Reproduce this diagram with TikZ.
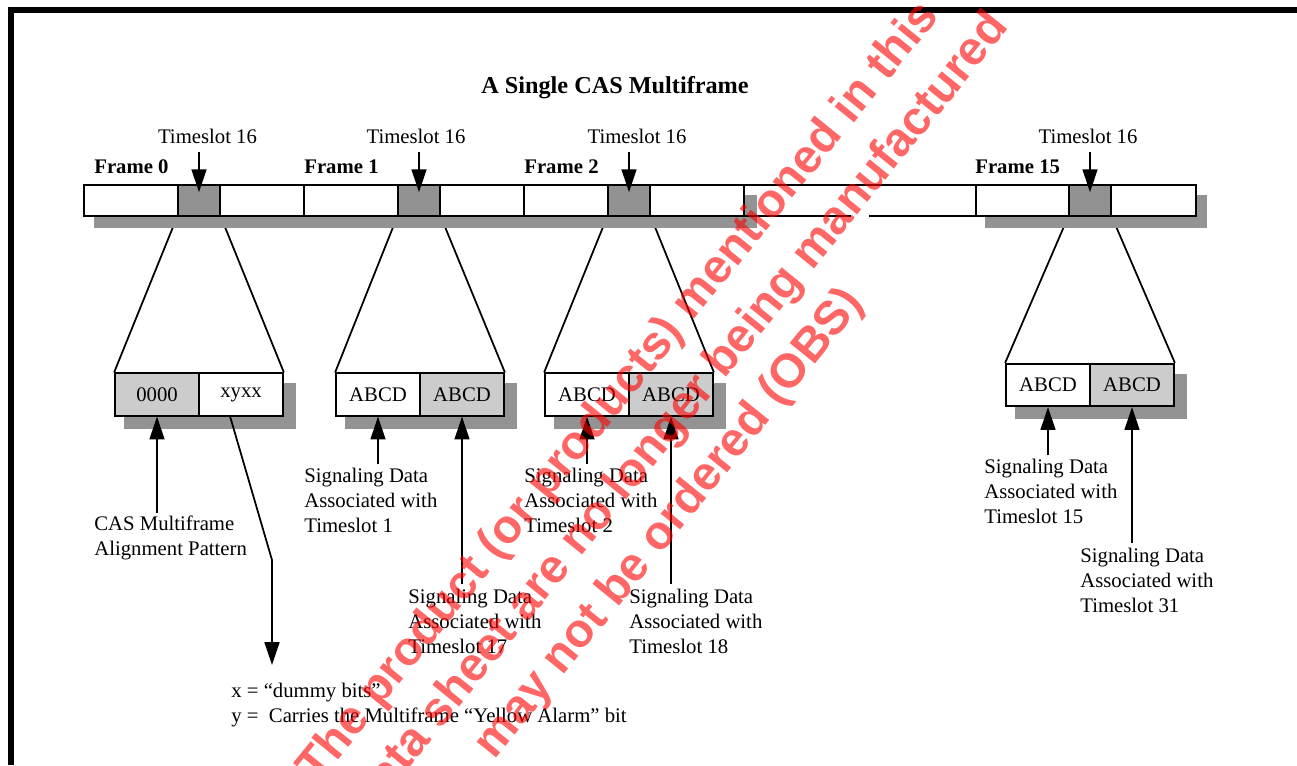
\documentclass[tikz,border=0pt]{standalone}
\usepackage{fontspec}
\setmainfont{Liberation Serif}
\newfontfamily\wmfont{Liberation Sans}
\usetikzlibrary{positioning,arrows.meta,calc,backgrounds}
\definecolor{SlotGray}{RGB}{146,146,146}
\definecolor{ShadeGray}{RGB}{147,147,147}
\definecolor{HalfGray}{RGB}{204,204,204}

\begin{document}
\begin{tikzpicture}[x=0.02cm,y=-0.02cm,
txt/.style={font=\fontsize{11.8}{14.2}\selectfont,inner sep=0pt},
frm/.style={font=\fontsize{11.8}{14.2}\selectfont\bfseries,inner sep=0pt,anchor=base west},
slot/.style={draw,line width=1pt,fill=SlotGray,minimum width=0.84cm,minimum height=0.62cm,inner sep=0pt},
half/.style={draw,line width=1pt,minimum width=1.68cm,minimum height=0.85cm,inner sep=0pt,font=\fontsize{11.8}{14.2}\selectfont},
shd/.style={fill=ShadeGray},
fan/.style={line width=1pt},
arr/.style={line width=1pt,-{Triangle[width=8.5pt,length=13pt]}},
note/.style={txt,align=left,anchor=north west},
wm/.style={font=\wmfont\fontsize{27}{30}\selectfont\bfseries,text=red,text opacity=0.6,rotate=51,inner sep=0pt}
]
\useasboundingbox (0,0) rectangle (1297,765);
% page frame
\draw[line width=3.4pt] (11,765) -- (11,10) -- (1297,10);
\node[font=\fontsize{13.8}{16}\selectfont\bfseries,inner sep=0pt,anchor=base] (title) at (615,93) {A Single CAS Multiframe};

% frame bar
\foreach \fx/\sx/\fn in {84/94/0,304/94/1,524/84/2,976/93/15}{
  \draw[line width=1pt,fill=white] (\fx,185) rectangle ++(220,31);
  \node[slot] (ts\fn) at (\fx+\sx+21,200.5) {};
}
\draw[line width=1pt] (744,185) -- (976,185);
\draw[line width=1pt] (744,216) -- (851,216);
\draw[line width=1pt] (869,216) -- (976,216);
\node[frm] (f0) at (94,173) {Frame 0};
\node[frm] (f1) at (304,173) {Frame 1};
\node[frm] (f2) at (524,173) {Frame 2};
\node[frm] (f15) at (975,173) {Frame 15};
\foreach \tx/\fn in {207.5/0,416/1,637/2,1088/15}{
  \node[txt,anchor=base] (tl\fn) at (\tx,143) {Timeslot 16};
  \draw[arr] ($(ts\fn.north)+(0,-32)$) -- ($(ts\fn.north)+(0,8)$);
}

% timeslot 16 contents
\node[half,fill=HalfGray] (b0l) at (157,394.5) {0000};
\node[half,fill=white] (b0r) at (241,394.5) {xyxx};
\node[half,fill=white] (b1l) at (378,394.5) {ABCD};
\node[half,fill=HalfGray] (b1r) at (462,394.5) {ABCD};
\node[half,fill=white] (b2l) at (587,394.5) {ABCD};
\node[half,fill=HalfGray] (b2r) at (671,394.5) {ABCD};
\node[half,fill=white] (b15l) at (1048,385) {ABCD};
\node[half,fill=HalfGray] (b15r) at (1132,385) {ABCD};

\begin{scope}[on background layer]
\foreach \k in {0,1,2,15}{
  \draw[fan] (ts\k.south west) -- (b\k l.north west);
  \draw[fan] (ts\k.south east) -- (b\k r.north east);
}
\fill[shd] (94,195) rectangle (757,228);
\fill[shd] (985,195) rectangle (1207,228);
\foreach \k in {0,1,2,15}
  \fill[shd] ($(b\k l.north west)+(10,11)$) rectangle ($(b\k r.south east)+(12,12)$);
\end{scope}

% labels below
\node[note] (cas) at (94,516) {CAS Multiframe\\Alignment Pattern};
\node[note] (s1) at (304,468) {Signaling Data\\Associated with\\Timeslot 1};
\node[note] (s17) at (408,589) {Signaling Data\\Associated with\\Timeslot 17};
\node[note] (s2) at (524,468) {Signaling Data\\Associated with\\Timeslot 2};
\node[note] (s18) at (629,589) {Signaling Data\\Associated with\\Timeslot 18};
\node[note] (s15) at (984,459) {Signaling Data\\Associated with\\Timeslot 15};
\node[note] (s31) at (1080,548) {Signaling Data\\Associated with\\Timeslot 31};
\draw[arr] ([yshift=2pt]b0l.south |- cas.north) -- (b0l.south);
\draw[arr] ([yshift=2pt]b1l.south |- s1.north) -- (b1l.south);
\draw[arr] ([yshift=3pt]b1r.south |- s17.north) -- (b1r.south);
\draw[arr] ([yshift=2pt]b2l.south |- s2.north) -- (b2l.south);
\draw[arr] ([yshift=3pt]b2r.south |- s18.north) -- (b2r.south);
\draw[arr] ([yshift=2pt]b15l.south |- s15.north) -- (b15l.south);
\draw[arr] ([yshift=3pt]b15r.south |- s31.north) -- (b15r.south);

% x/y legend
\coordinate (xbend) at (272,560);
\coordinate (xtip) at (272,665);
\draw[arr] ($(b0r.south west)+(32,0)$) -- (xbend) -- (xtip);
\node[note] (leg) at (231,683) {x = “dummy bits”\\y =\ \ Carries the Multiframe “Yellow Alarm” bit};

% watermark
\node[wm] (wm1) at (619.6,392.8) {The product (or products) mentioned in this};
\node[wm] (wm2) at (681,414) {data sheet are no longer being manufactured};
\node[wm] (wm3) at (670,524) {may not be ordered (OBS)};
\end{tikzpicture}
\end{document}
